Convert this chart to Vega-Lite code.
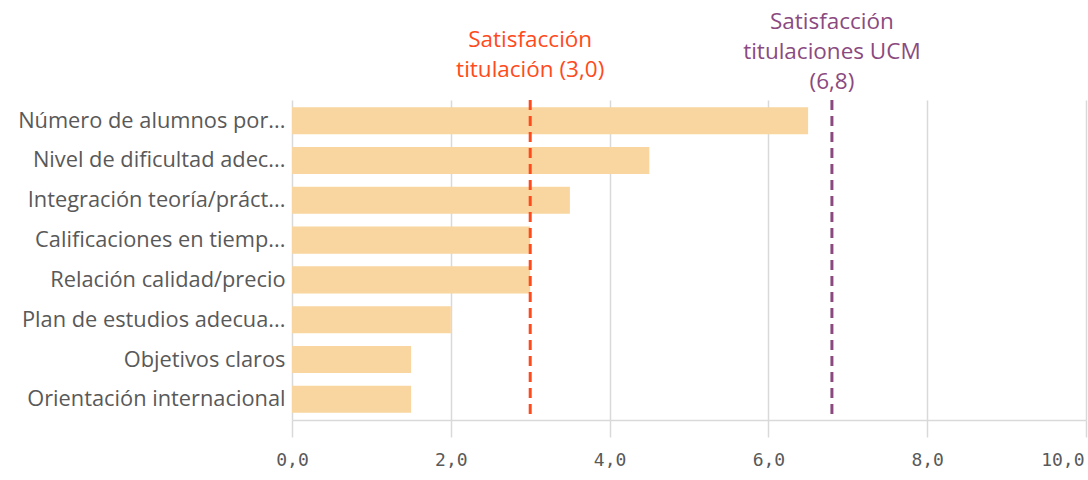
{
  "$schema": "https://vega.github.io/schema/vega-lite/v6.json",
  "autosize": {"type": "none"},
  "width": 794,
  "height": 320,
  "padding": {"left": 292, "top": 100, "right": 2, "bottom": 60},
  "background": "white",
  "config": {
    "view": {"stroke": null},
    "font": "Open Sans"
  },
  "datasets": {
    "bars": [
      {"item": "Número de alumnos por...", "value": 6.5},
      {"item": "Nivel de dificultad adec...", "value": 4.5},
      {"item": "Integración teoría/práct...", "value": 3.5},
      {"item": "Calificaciones en tiemp...", "value": 3.0},
      {"item": "Relación calidad/precio", "value": 3.0},
      {"item": "Plan de estudios adecua...", "value": 2.0},
      {"item": "Objetivos claros", "value": 1.5},
      {"item": "Orientación internacional", "value": 1.5}
    ],
    "refs": [
      {"name": "titulacion", "ref": 3.0, "label": ["Satisfacción", "titulación (3,0)"]},
      {"name": "ucm", "ref": 6.8, "label": ["Satisfacción", "titulaciones UCM", "(6,8)"]}
    ]
  },
  "layer": [
    {
      "data": {"name": "bars"},
      "mark": {"type": "bar", "color": "#f9d69f"},
      "encoding": {
        "y": {
          "field": "item", "type": "nominal", "sort": null,
          "scale": {"paddingInner": 0.32, "paddingOuter": 0.18},
          "axis": {
            "title": null, "domain": false, "ticks": false, "labelFontSize": 21.8,
            "labelColor": "#595959", "labelPadding": 7, "labelLimit": 300, "labelFont": "Open Sans"
          }
        },
        "x": {
          "field": "value", "type": "quantitative",
          "scale": {"domain": [0, 10], "nice": false},
          "axis": {
            "title": null, "values": [0, 2, 4, 6, 8, 10], "format": ".1f",
            "labelExpr": "replace(datum.label, '.', ',')",
            "labelFont": "DejaVu Sans Mono", "labelFontSize": 18, "labelColor": "#595959",
            "labelAlign": {"condition": {"test": "datum.value >= 10", "value": "right"}, "value": "center"},
            "labelOffset": {"condition": {"test": "datum.value >= 10", "value": -2}, "value": 0},
            "grid": true, "gridColor": "#d9d9d9", "gridWidth": 1.5,
            "domainColor": "#d9d9d9", "domainWidth": 1.5,
            "tickColor": "#d9d9d9", "tickWidth": 1.5, "tickSize": 17, "labelPadding": 14,
            "labelFlush": false
          }
        }
      }
    },
    {
      "data": {"name": "refs"},
      "mark": {"type": "rule", "strokeWidth": 3, "strokeDash": [10, 6]},
      "encoding": {
        "x": {"field": "ref", "type": "quantitative"},
        "color": {
          "field": "name", "type": "nominal", "legend": null,
          "scale": {"domain": ["titulacion", "ucm"], "range": ["#ff4a1c", "#8b4a7f"]}
        }
      }
    },
    {
      "data": {"name": "refs"},
      "transform": [{"filter": "datum.name === 'titulacion'"}],
      "mark": {"type": "text", "baseline": "bottom", "align": "center", "fontSize": 22.5, "lineHeight": 30, "dy": -48, "color": "#ff4a1c"},
      "encoding": {
        "x": {"field": "ref", "type": "quantitative"},
        "y": {"value": 0},
        "text": {"field": "label"}
      }
    },
    {
      "data": {"name": "refs"},
      "transform": [{"filter": "datum.name === 'ucm'"}],
      "mark": {"type": "text", "baseline": "bottom", "align": "center", "fontSize": 22.5, "lineHeight": 30, "dy": -66, "color": "#8b4a7f"},
      "encoding": {
        "x": {"field": "ref", "type": "quantitative"},
        "y": {"value": 0},
        "text": {"field": "label"}
      }
    }
  ]
}
